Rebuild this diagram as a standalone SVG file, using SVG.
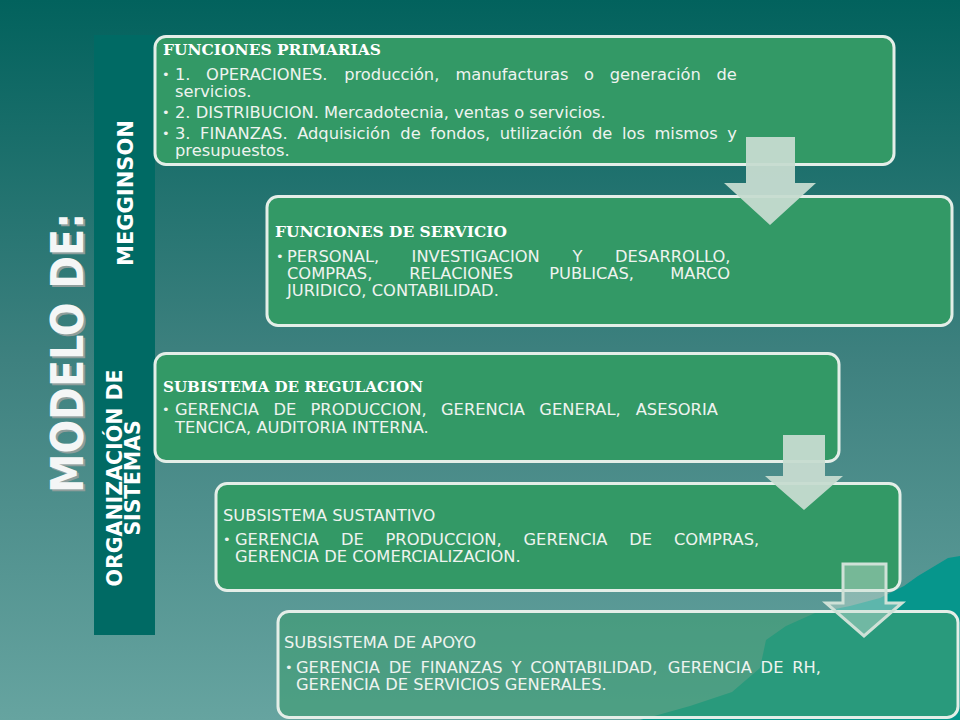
<svg xmlns="http://www.w3.org/2000/svg" width="960" height="720" viewBox="0 0 960 720">
<defs>
<linearGradient id="bg" x1="0" y1="0" x2="0" y2="1">
<stop offset="0" stop-color="#02625d"/>
<stop offset="0.5" stop-color="#3e817f"/>
<stop offset="1" stop-color="#66a4a0"/>
</linearGradient>
<style>
.box{fill:#339966;stroke:#e4eee8;stroke-width:3}
.b5{fill:#3f9c72;fill-opacity:0.62;stroke:#e4eee8;stroke-width:3}
.hs{font-family:"DejaVu Serif","Liberation Serif",serif;font-weight:bold;font-size:15px;fill:#ffffff}
.hn{font-family:"DejaVu Sans","Liberation Sans",sans-serif;font-size:16.3px;fill:#eef3ef}
.t{font-family:"DejaVu Sans","Liberation Sans",sans-serif;font-size:16.3px;fill:#eef3ef}
.bu{font-family:"DejaVu Sans","Liberation Sans",sans-serif;font-size:13px;fill:#eef3ef}
.vt{font-family:"DejaVu Sans","Liberation Sans",sans-serif;font-weight:bold;font-size:21px;fill:#ffffff;text-anchor:middle}
.ar{fill:#c6dbd0;fill-opacity:0.95}
.ar3{fill:#c8ddd2;fill-opacity:0.45;stroke:#cfe1d7;stroke-width:3}
</style>
</defs>
<rect x="0" y="0" width="960" height="720" fill="url(#bg)"/>
<path d="M640,720 L690,706 L732,692 L760,668 L766,640 L786,626 L815,613 L850,606 L880,598 L904,586 L918,576 L933,567 L948,558 L960,556 V720 Z" fill="#06968c"/>

<g id="title">
<text transform="translate(85,355) rotate(-90)" text-anchor="middle" font-family="DejaVu Sans, Liberation Sans, sans-serif" font-weight="bold" font-size="45" fill="#8e9e9c" textLength="280" lengthAdjust="spacingAndGlyphs">MODELO DE:</text>
<text transform="translate(83,353) rotate(-90)" text-anchor="middle" font-family="DejaVu Sans, Liberation Sans, sans-serif" font-weight="bold" font-size="45" fill="#f4f6f6" textLength="280" lengthAdjust="spacingAndGlyphs">MODELO DE:</text>
</g>

<g id="sidebar">
<rect x="94" y="35" width="61" height="600" fill="#006a64"/>
<text class="vt" transform="translate(133,193) rotate(-90)" textLength="146" lengthAdjust="spacingAndGlyphs">MEGGINSON</text>
<text class="vt" transform="translate(122,478) rotate(-90)" textLength="217" lengthAdjust="spacingAndGlyphs">ORGANIZACIÓN DE</text>
<text class="vt" transform="translate(140,478) rotate(-90)" textLength="115" lengthAdjust="spacingAndGlyphs">SISTEMAS</text>
</g>

<g id="funciones-primarias">
<rect class="box" x="155" y="36.5" width="739" height="128" rx="11"/>
<text class="hs" x="163" y="55" textLength="218" lengthAdjust="spacingAndGlyphs">FUNCIONES PRIMARIAS</text>
<text class="bu" x="162" y="79">•</text>
<text class="t" y="80"><tspan x="175">1.</tspan><tspan x="206.1">OPERACIONES.</tspan><tspan x="344.2">producción,</tspan><tspan x="455.4">manufacturas</tspan><tspan x="584.1">o</tspan><tspan x="609.7">generación</tspan><tspan x="716.5">de</tspan></text>
<text class="t" x="175" y="97">servicios.</text>
<text class="bu" x="162" y="117">•</text>
<text class="t" x="175" y="118">2. DISTRIBUCION. Mercadotecnia, ventas o servicios.</text>
<text class="bu" x="162" y="138">•</text>
<text class="t" y="139"><tspan x="175">3.</tspan><tspan x="200.1">FINANZAS.</tspan><tspan x="297.2">Adquisición</tspan><tspan x="400.3">de</tspan><tspan x="430.2">fondos,</tspan><tspan x="499.8">utilización</tspan><tspan x="592">de</tspan><tspan x="622">los</tspan><tspan x="654.5">mismos</tspan><tspan x="727.3">y</tspan></text>
<text class="t" x="175" y="156">presupuestos.</text>
</g>

<g id="funciones-servicio">
<rect class="box" x="267" y="196.5" width="685" height="129" rx="11"/>
<text class="hs" x="275" y="237" textLength="232" lengthAdjust="spacingAndGlyphs">FUNCIONES DE SERVICIO</text>
<text class="bu" x="276" y="261">•</text>
<text class="t" y="262"><tspan x="287">PERSONAL,</tspan><tspan x="411.6">INVESTIGACION</tspan><tspan x="572.5">Y</tspan><tspan x="614.9">DESARROLLO,</tspan></text>
<text class="t" y="279"><tspan x="287">COMPRAS,</tspan><tspan x="409.3">RELACIONES</tspan><tspan x="549.2">PUBLICAS,</tspan><tspan x="670.3">MARCO</tspan></text>
<text class="t" x="287" y="296">JURIDICO, CONTABILIDAD.</text>
</g>

<g id="subsistema-regulacion">
<rect class="box" x="155" y="353.5" width="684" height="108" rx="11"/>
<text class="hs" x="163" y="392" textLength="260" lengthAdjust="spacingAndGlyphs">SUBISTEMA DE REGULACION</text>
<text class="bu" x="162" y="414">•</text>
<text class="t" y="415"><tspan x="175">GERENCIA</tspan><tspan x="273.4">DE</tspan><tspan x="310.5">PRODUCCION,</tspan><tspan x="441">GERENCIA</tspan><tspan x="539.3">GENERAL,</tspan><tspan x="635.7">ASESORIA</tspan></text>
<text class="t" x="175" y="433">TENCICA, AUDITORIA INTERNA.</text>
</g>

<g id="subsistema-sustantivo">
<rect class="box" x="216" y="483.5" width="684" height="107" rx="11"/>
<text class="hn" x="223" y="521">SUBSISTEMA SUSTANTIVO</text>
<text class="bu" x="223" y="544">•</text>
<text class="t" y="545"><tspan x="235">GERENCIA</tspan><tspan x="340.9">DE</tspan><tspan x="385.5">PRODUCCION,</tspan><tspan x="523.5">GERENCIA</tspan><tspan x="629.3">DE</tspan><tspan x="673.9">COMPRAS,</tspan></text>
<text class="t" x="235" y="562">GERENCIA DE COMERCIALIZACION.</text>
</g>

<g id="subsistema-apoyo">
<rect class="b5" x="278" y="611.5" width="680" height="106" rx="11"/>
<text class="hn" x="284" y="648">SUBSISTEMA DE APOYO</text>
<text class="bu" x="285" y="672">•</text>
<text class="t" y="673"><tspan x="296">GERENCIA</tspan><tspan x="388.8">DE</tspan><tspan x="420.4">FINANZAS</tspan><tspan x="511.5">Y</tspan><tspan x="530.2">CONTABILIDAD,</tspan><tspan x="667.8">GERENCIA</tspan><tspan x="760.6">DE</tspan><tspan x="792.2">RH,</tspan></text>
<text class="t" x="296" y="690">GERENCIA DE SERVICIOS GENERALES.</text>
</g>

<g id="connectors">
<path class="ar" d="M746,137 H795 V183 H816 L770,225 L724,183 H746 Z"/>
<path class="ar" d="M783,435 H825 V476 H843 L804,510 L765,476 H783 Z"/>
<path class="ar3" d="M843,564 H886 V603 H902 L864,636 L826,603 H843 Z"/>
</g>
</svg>
